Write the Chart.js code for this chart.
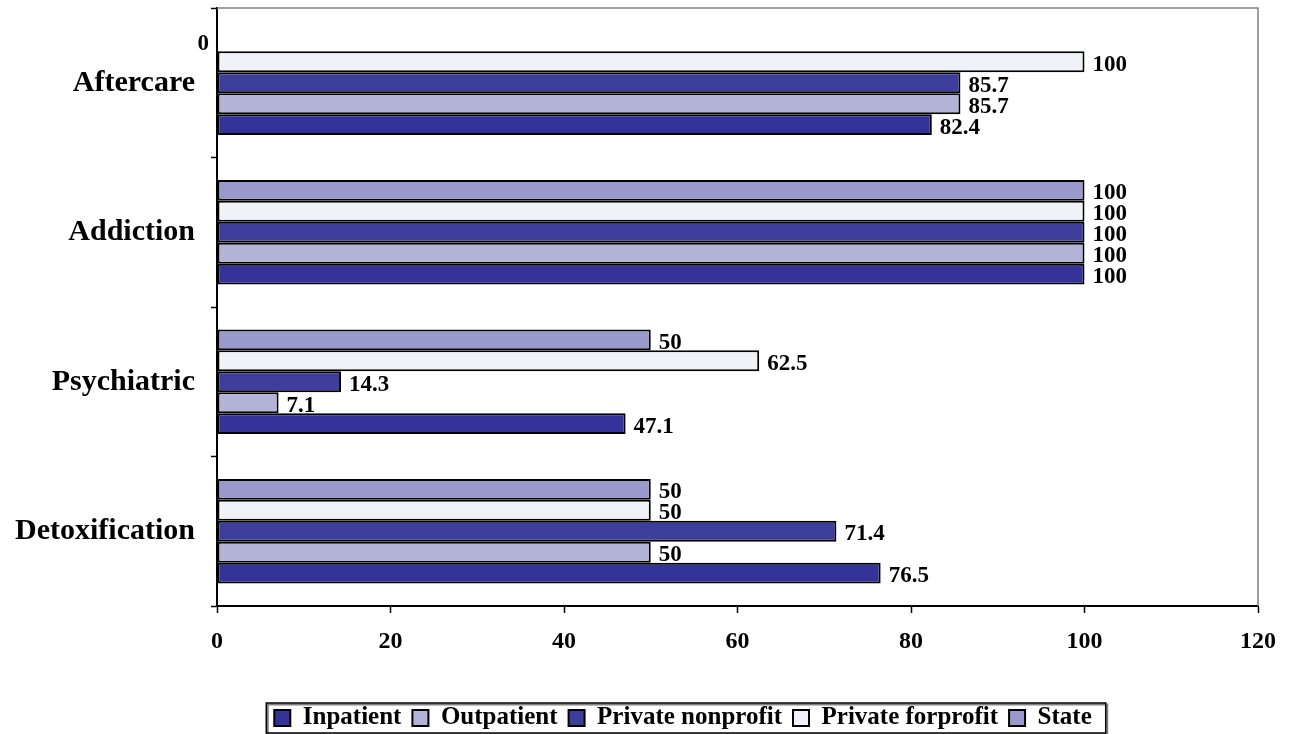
<!DOCTYPE html>
<html>
<head>
<meta charset="utf-8">
<script src="https://cdn.jsdelivr.net/npm/chart.js@4"></script>
<style>
  html, body { margin: 0; padding: 0; background: #ffffff; }
  #wrap { width: 1295px; height: 734px; }
</style>
</head>
<body>
<div id="wrap"><canvas id="c" width="1295" height="734"></canvas></div>
<script>
// Service categories, listed top to bottom
const categories = ['Aftercare', 'Addiction', 'Psychiatric', 'Detoxification'];

// Percentages per facility type
const inpatient        = [82.4, 100, 47.1, 76.5];
const outpatient       = [85.7, 100, 7.1, 50];
const privateNonprofit = [85.7, 100, 14.3, 71.4];
const privateForprofit = [100, 100, 62.5, 50];
const state            = [0, 100, 50, 50];

// Value axis ticks
const xTickMin = 0;
const xTickMax = 120;
const xTickStep = 20;

const FONT = "'Times New Roman', 'Liberation Serif', serif";

// Writes each bar's value next to its end
const valueLabels = {
  id: 'valueLabels',
  afterDatasetsDraw(chart) {
    const ctx = chart.ctx;
    ctx.save();
    ctx.font = 'bold 23px ' + FONT;
    ctx.fillStyle = '#000';
    ctx.textBaseline = 'middle';
    chart.data.datasets.forEach((ds, i) => {
      const meta = chart.getDatasetMeta(i);
      if (meta.hidden) return;
      meta.data.forEach((bar, j) => {
        const v = ds.data[j];
        const txt = String(v);
        if (v === 0) {
          ctx.textAlign = 'right';
          ctx.fillText(txt, bar.base - 8, bar.y + 3);
        } else {
          ctx.textAlign = 'left';
          ctx.fillText(txt, bar.x + 8, bar.y + 3);
        }
      });
    });
    ctx.restore();
  }
};

// Grey outline on the top and right of the plot area
const plotFrame = {
  id: 'plotFrame',
  beforeDatasetsDraw(chart) {
    const { ctx, chartArea: a } = chart;
    ctx.save();
    ctx.strokeStyle = '#808080';
    ctx.lineWidth = 1.5;
    ctx.beginPath();
    ctx.moveTo(a.left, a.top);
    ctx.lineTo(a.right, a.top);
    ctx.lineTo(a.right, a.bottom);
    ctx.stroke();
    ctx.restore();
  }
};

function legendExtent(lg) {
  let l = Infinity, r = -Infinity, t = Infinity, b = -Infinity;
  lg.legendHitBoxes.forEach(h => {
    l = Math.min(l, h.left); r = Math.max(r, h.left + h.width);
    t = Math.min(t, h.top); b = Math.max(b, h.top + h.height);
  });
  return { l, r, t, b };
}

// Moves the legend row into place under the plot and boxes it
const legendFrame = {
  id: 'legendFrame',
  afterUpdate(chart) {
    const lg = chart.legend;
    if (!lg || !lg.legendHitBoxes || !lg.legendHitBoxes.length) return;
    const e = legendExtent(lg);
    const dx = 683 - (e.l + e.r) / 2;
    const dy = 718 - (e.t + e.b) / 2;
    lg.left += dx; lg.right += dx;
    lg.top += dy; lg.bottom += dy;
    lg.legendHitBoxes.forEach(h => { h.left += dx; h.top += dy; });
  },
  afterDraw(chart) {
    const lg = chart.legend;
    if (!lg || !lg.legendHitBoxes || !lg.legendHitBoxes.length) return;
    const e = legendExtent(lg);
    const cy = (e.t + e.b) / 2;
    const x0 = e.l - 8, x1 = e.r + 14, y0 = cy - 15, y1 = cy + 15;
    const ctx = chart.ctx;
    ctx.save();
    ctx.strokeStyle = '#808080';
    ctx.lineWidth = 2;
    ctx.strokeRect(x0 + 1.5, y0 + 1.5, x1 - x0, y1 - y0);
    ctx.strokeStyle = '#000';
    ctx.lineWidth = 1.5;
    ctx.strokeRect(x0, y0, x1 - x0, y1 - y0);
    ctx.restore();
  }
};

const bar = (label, data, color) => ({
  label, data,
  backgroundColor: color,
  borderColor: '#000',
  borderWidth: 2,
  borderSkipped: false,
  categoryPercentage: 0.7,
  barPercentage: 1.0
});

new Chart(document.getElementById('c'), {
  type: 'bar',
  data: {
    labels: categories,
    datasets: [
      bar('State', state, '#9999CC'),
      bar('Private forprofit', privateForprofit, '#F1F1F8'),
      bar('Private nonprofit', privateNonprofit, '#3D3D9C'),
      bar('Outpatient', outpatient, '#B3B3D7'),
      bar('Inpatient', inpatient, '#333399')
    ]
  },
  options: {
    indexAxis: 'y',
    responsive: false,
    animation: false,
    layout: { padding: { top: 8, left: 0, right: 0, bottom: 0 } },
    scales: {
      x: {
        type: 'linear',
        min: xTickMin,
        max: xTickMax,
        ticks: {
          stepSize: xTickStep,
          color: '#000',
          padding: 14,
          font: { family: FONT, size: 24, weight: 'bold' }
        },
        grid: { drawOnChartArea: false, drawTicks: true, tickLength: 7, tickColor: '#000', tickWidth: 1.5 },
        border: { color: '#000', width: 2 },
        afterFit(scale) {
          const lg = scale.chart.legend;
          scale.height = scale.chart.height - 606 - (lg ? lg.height : 0);
        }
      },
      y: {
        type: 'category',
        ticks: {
          color: '#000',
          padding: 16,
          font: { family: FONT, size: 30, weight: 'bold' }
        },
        grid: { drawOnChartArea: false, drawTicks: true, tickLength: 6, tickColor: '#000', tickWidth: 1.5, offset: true },
        border: { color: '#000', width: 2 },
        afterFit(scale) {
          scale.width = 217;
          scale.paddingTop = 0;
          scale.paddingBottom = 0;
        }
      },
      yRight: {
        type: 'linear',
        position: 'right',
        display: true,
        ticks: { display: false },
        grid: { display: false, drawTicks: false },
        border: { display: false },
        afterFit(scale) {
          scale.width = 37;
          scale.paddingTop = 0;
          scale.paddingBottom = 0;
        }
      }
    },
    plugins: {
      legend: {
        position: 'bottom',
        reverse: true,
        padding: 4,
        labels: {
          color: '#000',
          boxWidth: 16,
          boxHeight: 16,
          padding: 11,
          font: { family: FONT, size: 25, weight: 'bold' }
        }
      },
      tooltip: { enabled: false }
    }
  },
  plugins: [plotFrame, valueLabels, legendFrame]
});
</script>
</body>
</html>
